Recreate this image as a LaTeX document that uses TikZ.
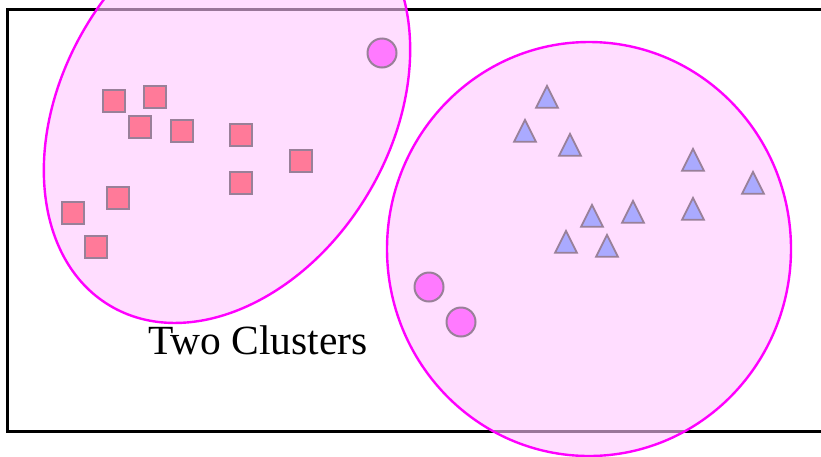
\documentclass[tikz,border=0pt]{standalone}
\usepackage{fontspec}
\setmainfont{Liberation Serif}
\usetikzlibrary{positioning, shapes.geometric}

\definecolor{blobline}{RGB}{255,0,255}
\definecolor{blobfill}{RGB}{255,198,255}
\definecolor{sqfill}{RGB}{255,122,153}
\definecolor{trifill}{RGB}{170,170,255}
\definecolor{dotfill}{RGB}{255,122,255}
\definecolor{markline}{RGB}{153,128,153}

\tikzset{
    blob/.style={draw=blobline, line width=2.4pt, fill=blobfill, fill opacity=0.6},
    sqr/.style={rectangle, draw=markline, fill=sqfill, line width=1.8pt, minimum size=22pt, inner sep=0pt},
    tri/.style={isosceles triangle, isosceles triangle stretches, shape border rotate=90,
        draw=markline, fill=trifill, line width=1.8pt, minimum width=22pt, minimum height=22pt, inner sep=0pt},
    dot/.style={circle, draw=markline, fill=dotfill, line width=2pt, minimum size=29pt, inner sep=0pt}
}

\begin{document}
\begin{tikzpicture}[x=1pt, y=-1pt]
    \useasboundingbox (0,0) rectangle (821,456);
    \clip (0,0) rectangle (821,456);

    % Rahmen
    \draw[line width=3pt] (7,9) rectangle (840,431);

    % die beiden Cluster
    \draw[blob, rotate around={59:(227,110)}] (227,110) ellipse [x radius=228pt, y radius=164pt];
    \draw[blob] (589,249) ellipse [x radius=202pt, y radius=207pt];

    % Quadrate
    \foreach \x/\y [count=\i] in {114/101, 155/97, 140/127, 182/131, 241/135,
                                  301/161, 241/183, 118/198, 73/213, 96/247}
        \node[sqr] (sq\i) at (\x,\y) {};

    % Dreiecke
    \foreach \x/\y [count=\i] in {547/101, 525/135, 570/149, 693/164, 753/187,
                                  693/213, 633/216, 592/220, 566/246, 607/250}
        \node[tri] (tri\i) at (\x,\y) {};

    % Kreise
    \node[dot] (dot1) at (382,53) {};
    \node[dot] (dot2) at (429,287) {};
    \node[dot] (dot3) at (461,322) {};

    % Beschriftung
    \node[anchor=base, inner sep=0pt, font=\fontsize{41.5}{48}\selectfont] (title) at (258,354) {Two Clusters};
\end{tikzpicture}
\end{document}
